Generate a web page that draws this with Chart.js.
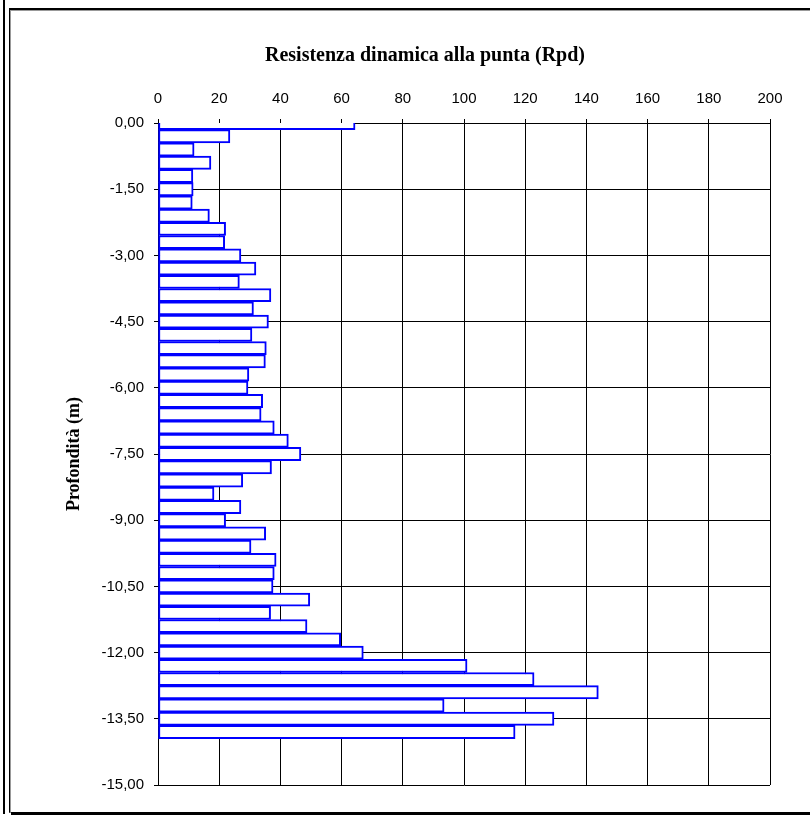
<!DOCTYPE html>
<html>
<head>
<meta charset="utf-8">
<script src="https://cdn.jsdelivr.net/npm/chart.js@4/dist/chart.umd.min.js"></script>
<style>
    html, body { margin: 0; padding: 0; background: #fff; overflow: hidden; }
    #wrap { position: relative; width: 810px; height: 816px; overflow: hidden; }
    #frame { position: absolute; left: 9px; top: 8px; width: 900px; height: 802px;
             border-top: 2px solid #000; border-left: 1px solid #000; border-bottom: 1px solid #888; }
    #frame-inner { position: absolute; left: 0; top: 0; right: 0; bottom: 0; border-top: 1px solid #999; border-left: 1px solid #999; }
    #shadow-bottom { position: absolute; left: 11px; top: 812px; width: 810px; height: 3px; background: #000; }
    #shadow-left { position: absolute; left: 3px; top: 0; width: 2px; height: 814px; background: #000; }
    canvas { position: absolute; left: 0; top: 0; }
</style>
</head>
<body>
<div id="wrap">
    <div id="frame"><div id="frame-inner"></div></div>
    <div id="shadow-bottom"></div>
    <div id="shadow-left"></div>
    <canvas id="rpd-chart" width="850" height="816"></canvas>
</div>
<script>
// Profondità (m), one reading every 0,30 m
const depths = [
    0.0, -0.3, -0.6, -0.9, -1.2, -1.5, -1.8, -2.1, -2.4, -2.7,
    -3.0, -3.3, -3.6, -3.9, -4.2, -4.5, -4.8, -5.1, -5.4, -5.7,
    -6.0, -6.3, -6.6, -6.9, -7.2, -7.5, -7.8, -8.1, -8.4, -8.7,
    -9.0, -9.3, -9.6, -9.9, -10.2, -10.5, -10.8, -11.1, -11.4, -11.7,
    -12.0, -12.3, -12.6, -12.9, -13.2, -13.5, -13.8
];

// Resistenza dinamica alla punta (Rpd)
const rpd = [
    64.4, 23.5, 11.8, 17.3, 11.4, 11.5, 11.2, 16.8, 22.1, 21.8,
    27.1, 32.0, 26.6, 36.9, 31.2, 36.1, 30.7, 35.4, 35.1, 29.7,
    29.4, 34.2, 33.7, 38.0, 42.6, 46.7, 37.1, 27.7, 18.3, 27.1,
    22.1, 35.2, 30.4, 38.6, 38.0, 37.6, 49.6, 36.8, 48.7, 59.7,
    67.1, 101.0, 122.9, 143.9, 93.5, 129.4, 116.7
];

const xTicks = { min: 0, max: 200, step: 20 };
const yTicks = { min: -15, max: 0, step: 1.5 };

const titleText = 'Resistenza dinamica alla punta (Rpd)';
const yTitleText = 'Profondità (m)';

function formatDepth(value) {
    return Number(value).toFixed(2).replace('.', ',');
}

const ctx = document.getElementById('rpd-chart').getContext('2d');
const rpdChart = new Chart(ctx, {
    type: 'bar',
    data: {
        datasets: [{
            data: depths.map((d, i) => ({ x: rpd[i], y: d })),
            backgroundColor: '#ffffff',
            borderColor: '#0000ff',
            borderWidth: 2,
            borderSkipped: false,
            barPercentage: 1,
            categoryPercentage: 1,
            clip: { left: 1, top: 0, right: 2, bottom: 1 }
        }]
    },
    options: {
        indexAxis: 'y',
        responsive: false,
        animation: false,
        devicePixelRatio: 1,
        layout: {
            padding: { left: 0, right: 0, top: 0, bottom: 31 }
        },
        plugins: {
            legend: { display: false },
            tooltip: { enabled: false },
            title: {
                display: true,
                text: titleText,
                color: '#000',
                font: { family: 'Liberation Serif', size: 20, weight: 'bold', lineHeight: 1.2 },
                padding: { top: 44, bottom: 15 }
            }
        },
        scales: {
            x: {
                type: 'linear',
                position: 'top',
                min: xTicks.min,
                max: xTicks.max,
                ticks: {
                    stepSize: xTicks.step,
                    color: '#000',
                    padding: 11,
                    font: { family: 'Liberation Sans', size: 15 }
                },
                grid: { color: '#000', lineWidth: 1, tickLength: 4 },
                border: { color: '#000', width: 1 },
                afterFit: (scale) => { scale.height = 40; }
            },
            y: {
                type: 'linear',
                offset: false,
                min: yTicks.min,
                max: yTicks.max,
                ticks: {
                    stepSize: yTicks.step,
                    color: '#000',
                    padding: 10,
                    font: { family: 'Liberation Sans', size: 15 },
                    callback: (value) => formatDepth(value)
                },
                grid: { color: '#000', lineWidth: 1, tickLength: 4, offset: false },
                border: { color: '#000', width: 1 },
                title: {
                    display: true,
                    text: yTitleText,
                    color: '#000',
                    font: { family: 'Liberation Serif', size: 18, weight: 'bold', lineHeight: 1.2 },
                    padding: { top: 63.2, bottom: 0 }
                },
                afterFit: (scale) => { scale.width = 158; }
            },
            // empty space on the right of the plot, kept outside the title box
            yRight: {
                type: 'linear',
                position: 'right',
                display: true,
                ticks: { display: false },
                grid: { display: false, drawTicks: false },
                border: { display: false },
                afterFit: (scale) => { scale.width = 80; }
            }
        }
    }
});
</script>
</body>
</html>
